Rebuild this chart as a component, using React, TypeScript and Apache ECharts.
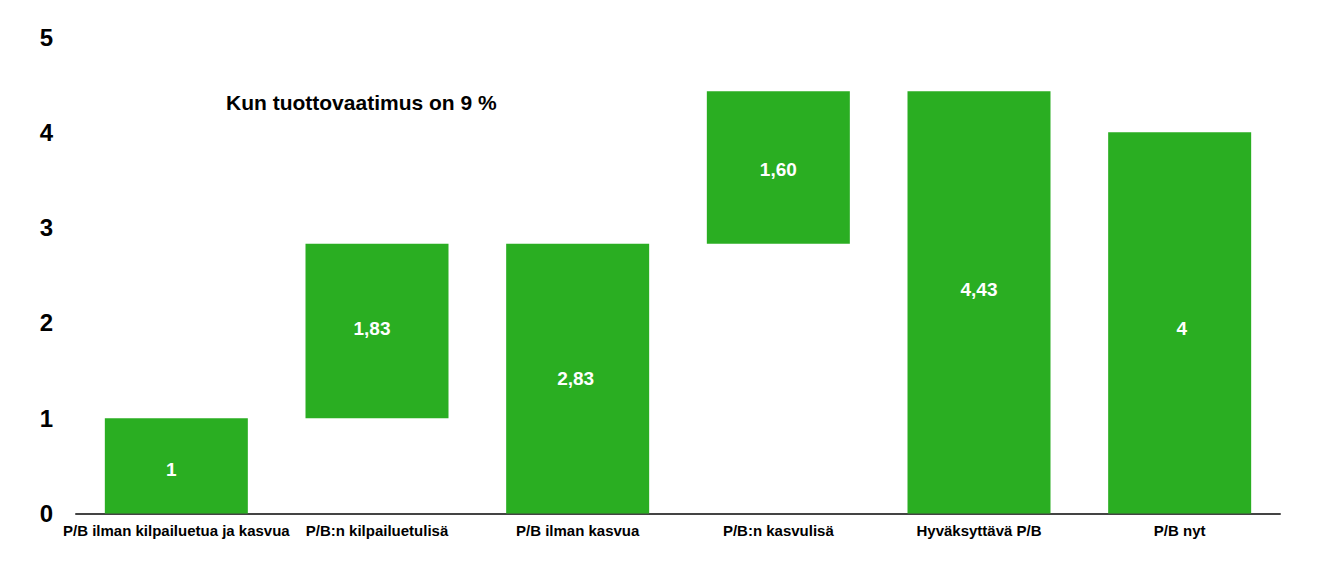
import React, { useEffect, useRef } from "react";
import * as echarts from "echarts";

const categories = [
  "P/B ilman kilpailuetua ja kasvua",
  "P/B:n kilpailuetulisä",
  "P/B ilman kasvua",
  "P/B:n kasvulisä",
  "Hyväksyttävä P/B",
  "P/B nyt",
];
const baseValues = [0, 1, 0, 2.83, 0, 0];
const barValues = [1, 1.83, 2.83, 1.6, 4.43, 4];
const yTicks = [0, 1, 2, 3, 4, 5];
const titleText = "Kun tuottovaatimus on 9 %";

// label nudges (style only), in pixels [dx, dy]
const labelNudge: [number, number][] = [
  [-5, 4],
  [-5, -3],
  [-2, 0],
  [0, 2],
  [0, -13],
  [2, 6],
];

const GREEN = "#2aae22";
const FONT = "'Liberation Sans', Arial, Helvetica, sans-serif";

function fmt(v: number): string {
  if (Number.isInteger(v)) return String(v);
  return v.toFixed(2).replace(".", ",");
}

export default function App() {
  const ref = useRef<HTMLDivElement>(null);
  useEffect(() => {
    document.body.style.margin = "0";
    if (!ref.current) return;
    const chart = echarts.init(ref.current, undefined, { renderer: "svg" });
    chart.setOption({
      animation: false,
      backgroundColor: "#ffffff",
      textStyle: { fontFamily: FONT },
      title: {
        text: titleText,
        left: 226,
        top: 92,
        padding: 0,
        textStyle: { fontFamily: FONT, fontSize: 21, fontWeight: "bold", color: "#000" },
      },
      grid: { left: 76, right: 42, top: 37, bottom: 68.5, containLabel: false },
      xAxis: {
        type: "category",
        data: categories,
        axisLine: { show: true, lineStyle: { color: "#444444", width: 2 } },
        axisTick: { show: false },
        axisLabel: {
          interval: 0,
          margin: 9,
          color: "#000",
          fontSize: 15,
          fontWeight: "bold",
          fontFamily: FONT,
        },
        splitLine: { show: false },
      },
      yAxis: {
        type: "value",
        min: yTicks[0],
        max: yTicks[yTicks.length - 1],
        interval: 1,
        axisLine: { show: false },
        axisTick: { show: false },
        splitLine: { show: false },
        axisLabel: {
          margin: 23,
          color: "#000",
          fontSize: 24,
          fontWeight: "bold",
          fontFamily: FONT,
        },
      },
      series: [
        {
          type: "bar",
          stack: "w",
          data: baseValues,
          barWidth: 143,
          itemStyle: { color: "transparent" },
          silent: true,
          label: { show: false },
        },
        {
          type: "bar",
          stack: "w",
          data: barValues.map((v, i) => ({
            value: v,
            label: { offset: labelNudge[i] },
          })),
          barWidth: 143,
          itemStyle: { color: GREEN },
          label: {
            show: true,
            position: "inside",
            color: "#fff",
            fontSize: 19,
            fontWeight: "bold",
            fontFamily: FONT,
            formatter: (p: any) => fmt(p.value),
          },
        },
      ],
    });
    return () => chart.dispose();
  }, []);
  return <div ref={ref} style={{ width: 1322, height: 582 }} />;
}
